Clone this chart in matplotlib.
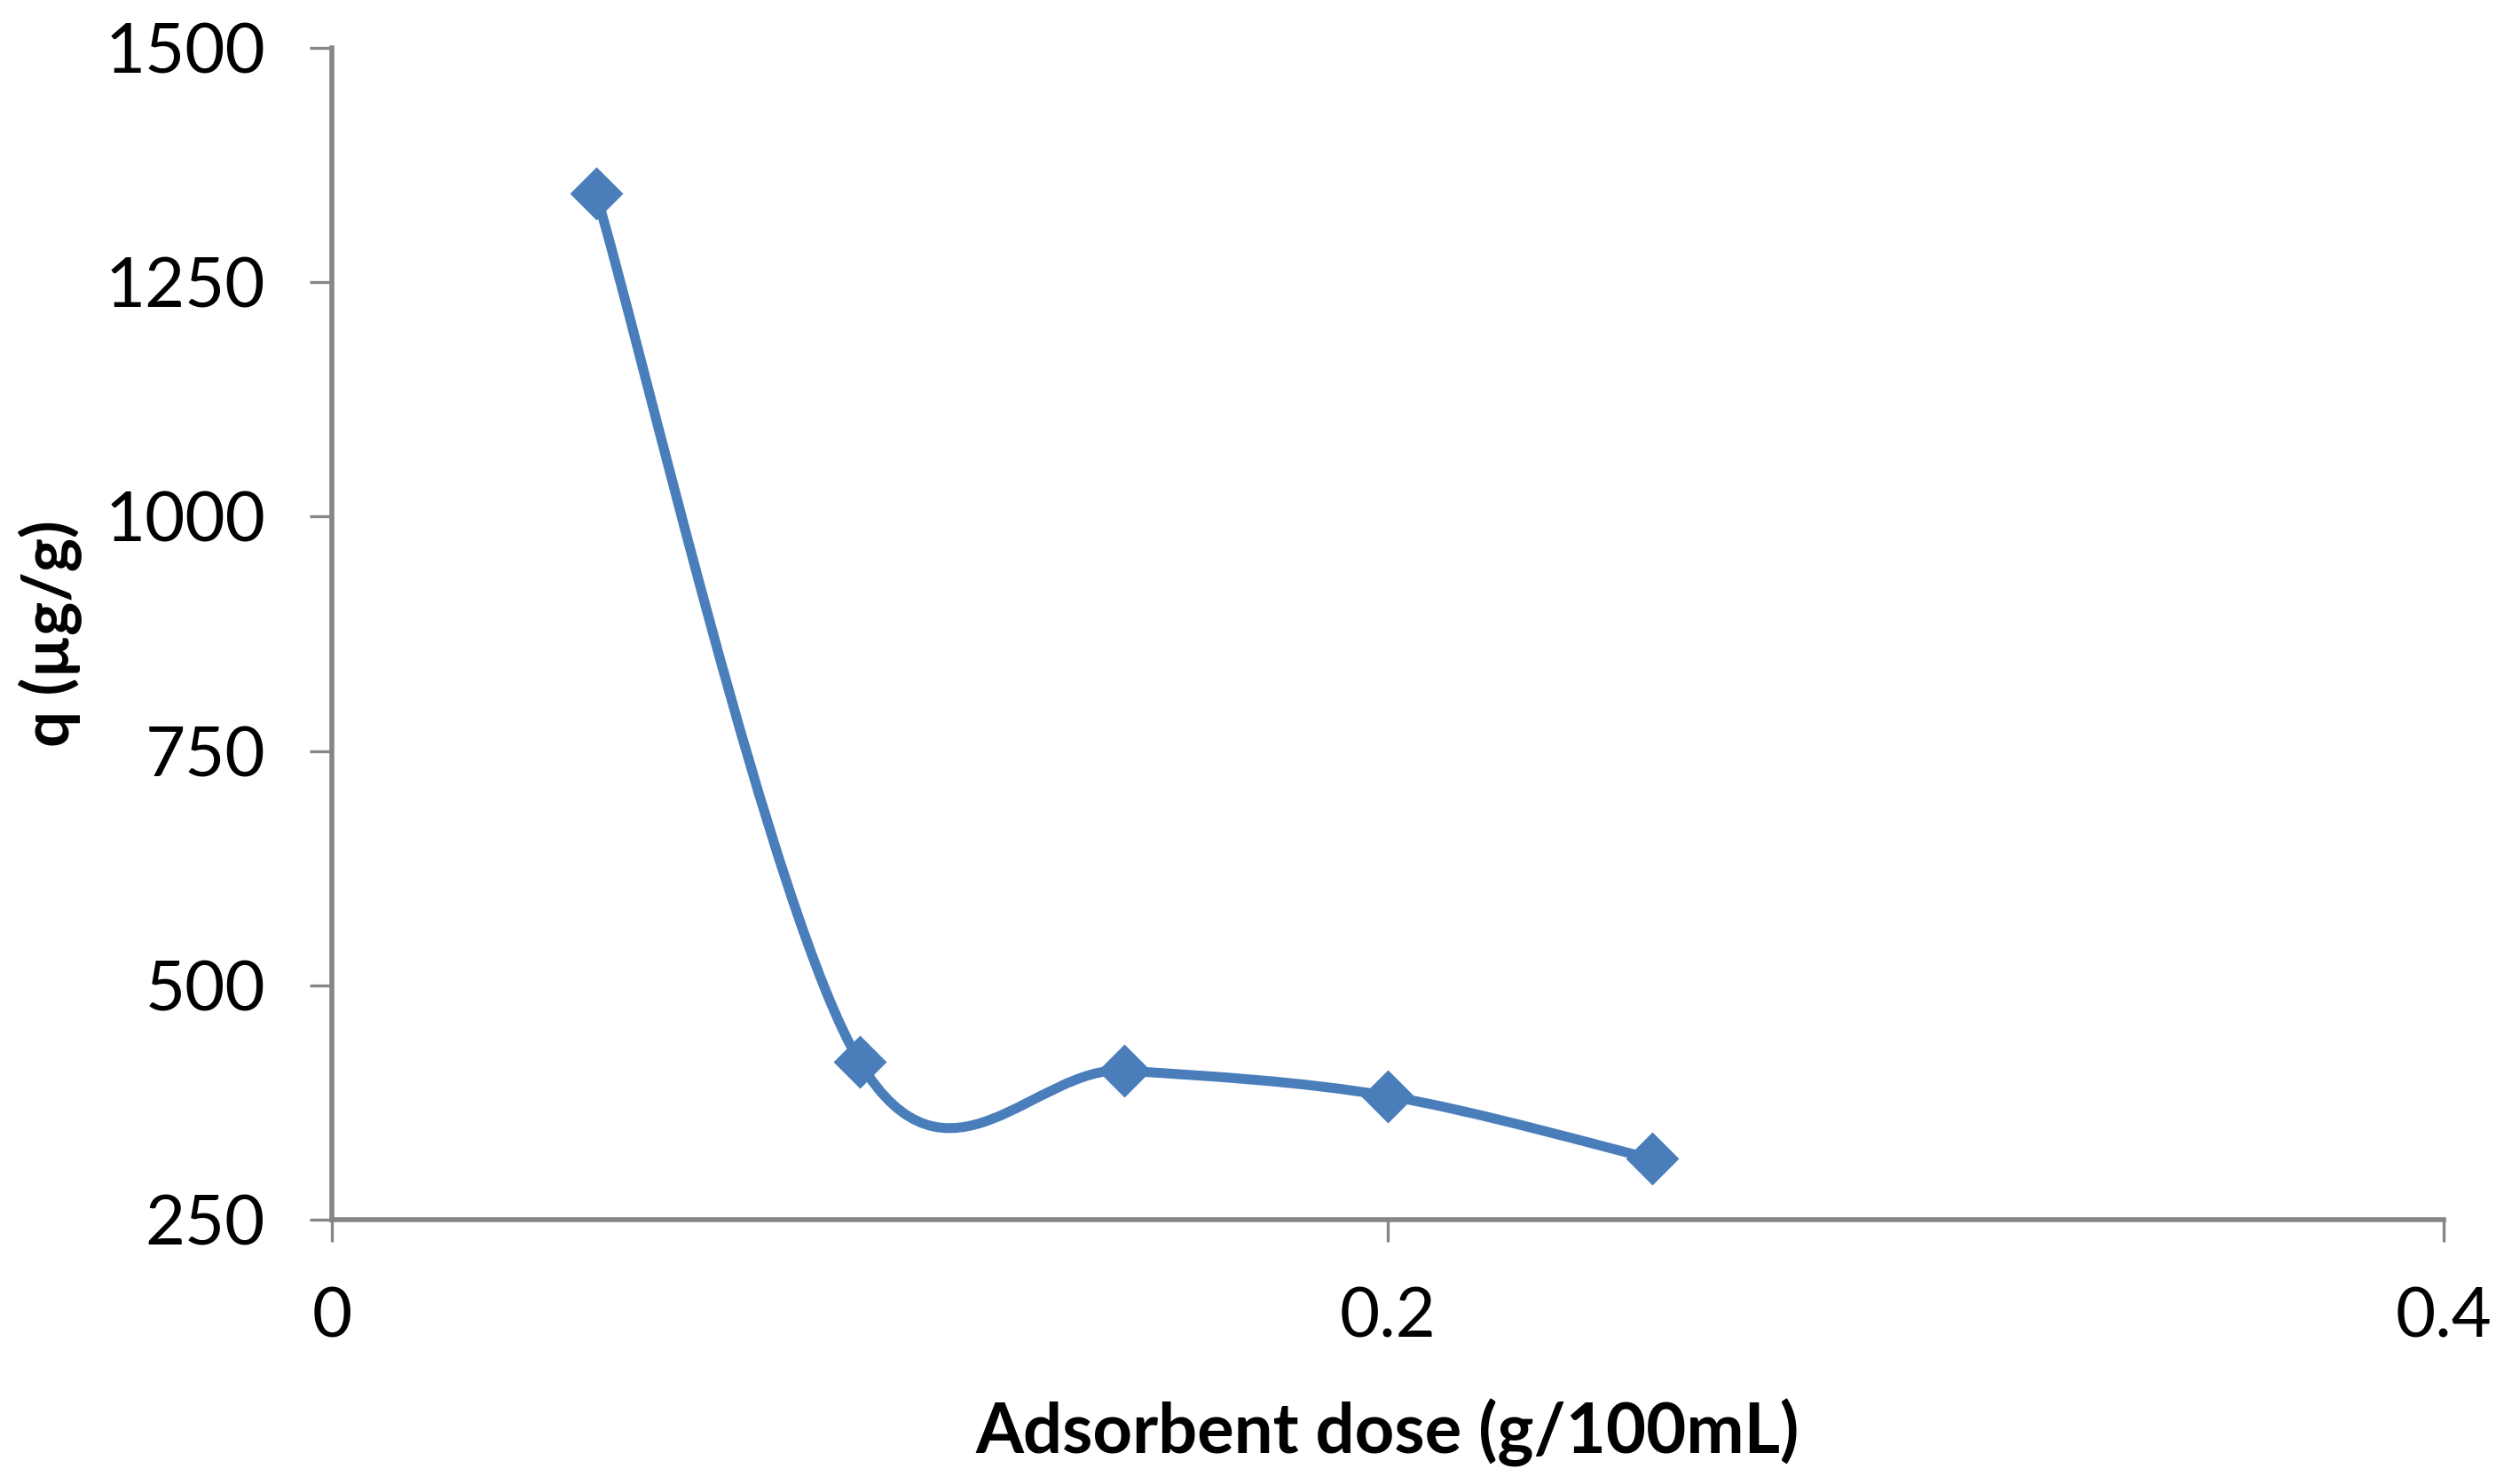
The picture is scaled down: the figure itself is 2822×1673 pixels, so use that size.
import matplotlib
matplotlib.use("Agg")
import matplotlib.pyplot as plt
import numpy as np
from matplotlib.path import Path
from matplotlib.patches import PathPatch

# data
dose = [0.05, 0.10, 0.15, 0.20, 0.25]
q = [1345, 418, 409, 382, 315]

x_ticks = [0, 0.2, 0.4]
x_tick_labels = ["0", "0.2", "0.4"]
y_ticks = [250, 500, 750, 1000, 1250, 1500]

line_color = "#4a7ebb"
axis_color = "#868686"

plt.rcParams["font.family"] = ["Lato", "DejaVu Sans"]


def smooth_path(xs, ys):
    """Excel-like smoothed line: Catmull-Rom segments as cubic Beziers."""
    pts = np.column_stack([xs, ys]).astype(float)
    n = len(pts)
    verts = [pts[0]]
    codes = [Path.MOVETO]
    for i in range(n - 1):
        p0 = pts[i - 1] if i > 0 else pts[i]
        p1 = pts[i]
        p2 = pts[i + 1]
        p3 = pts[i + 2] if i + 2 < n else pts[i + 1]
        c1 = p1 + (p2 - p0) / 6.0
        c2 = p2 - (p3 - p1) / 6.0
        verts += [c1, c2, p2]
        codes += [Path.CURVE4] * 3
    return Path(verts, codes)


fig = plt.figure(figsize=(14.11, 8.365), dpi=200)
ax = fig.add_axes([374 / 2822, 1 - 1375 / 1673, (2754 - 374) / 2822, (1375 - 54) / 1673])

ax.add_patch(PathPatch(smooth_path(dose, q), facecolor="none",
                       edgecolor=line_color, lw=4.0, capstyle="round", zorder=2))
ax.plot(dose, q, linestyle="none", marker="D", markersize=14.5,
        color=line_color, markeredgecolor=line_color, zorder=3, clip_on=False)

ax.set_xlim(0, 0.4)
ax.set_ylim(250, 1500)
ax.set_xticks(x_ticks)
ax.set_xticklabels(x_tick_labels)
ax.set_yticks(y_ticks)

for side in ["top", "right"]:
    ax.spines[side].set_visible(False)
for side in ["left", "bottom"]:
    ax.spines[side].set_color(axis_color)
    ax.spines[side].set_linewidth(2.0)

ax.tick_params(axis="both", colors=axis_color, width=1.2, length=9,
               labelcolor="black", labelsize=28)
ax.tick_params(axis="x", pad=18)
ax.tick_params(axis="y", pad=18)

ax.set_xlabel("Adsorbent dose (g/100mL)", fontsize=28, fontweight="bold", labelpad=20)
ax.set_ylabel("q (µg/g)", fontsize=26, fontweight="bold")
ax.yaxis.set_label_coords(-0.118, 0.5)

fig.savefig("out.png", dpi=200, facecolor="white")
